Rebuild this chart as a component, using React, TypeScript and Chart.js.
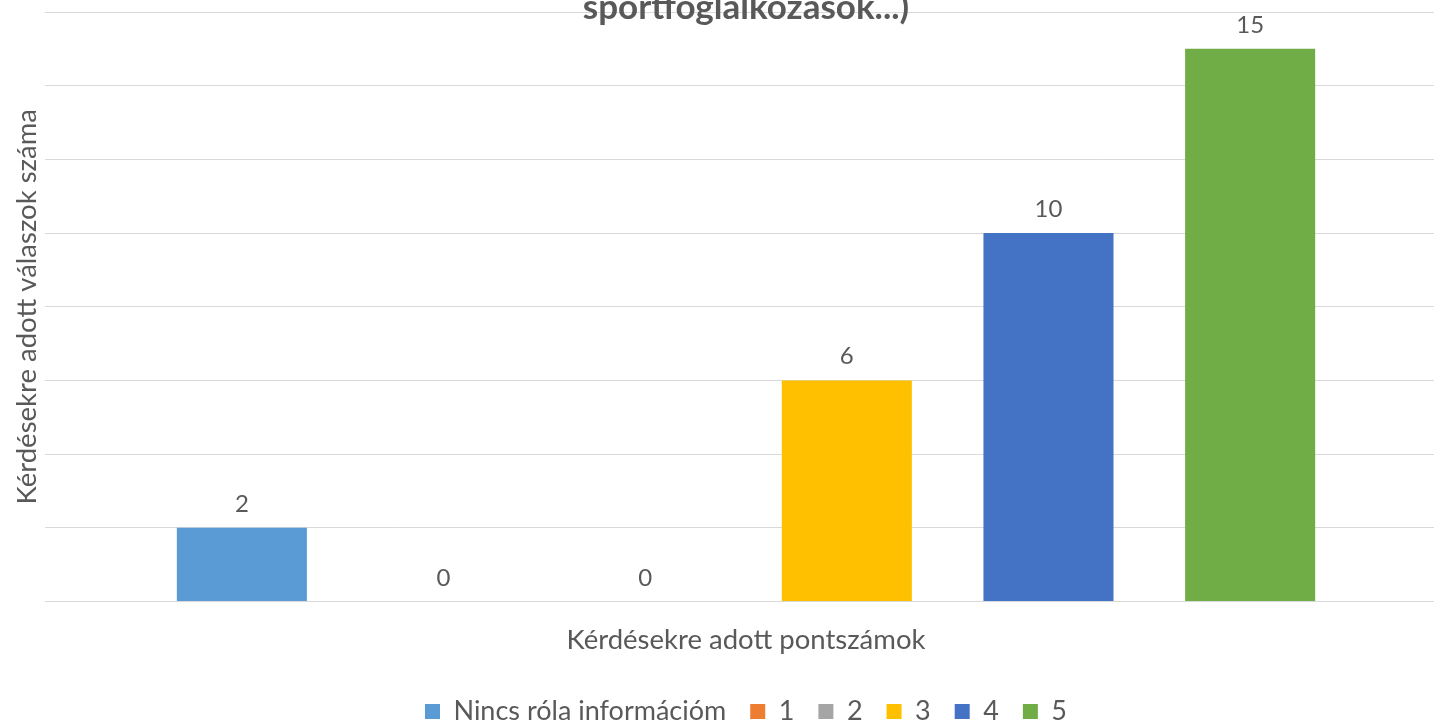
import React, { useEffect, useRef } from "react";
import { Chart, registerables } from "chart.js";

Chart.register(...registerables);

// ---- data ----
const categories = [""];
const seriesLabels = ["Nincs róla információm", "1", "2", "3", "4", "5"];
const seriesValues = [2, 0, 0, 6, 10, 15];
const seriesColors = ["#5B9BD5", "#ED7D31", "#A5A5A5", "#FFC000", "#4472C4", "#70AD47"];
const yMin = 0;
const yMax = 16;
const yStep = 2;
const chartTitle = "sportfoglalkozások...)";
const xAxisTitle = "Kérdésekre adott pontszámok";
const yAxisTitle = "Kérdésekre adott válaszok száma";

const FONT = "Lato, 'Open Sans', sans-serif";
const TEXT = "#595959";

const valueLabels = {
  id: "valueLabels",
  afterDatasetsDraw(chart: any) {
    const ctx = chart.ctx;
    ctx.save();
    ctx.font = `24px ${FONT}`;
    ctx.fillStyle = TEXT;
    ctx.textAlign = "center";
    ctx.textBaseline = "alphabetic";
    chart.data.datasets.forEach((ds: any, i: number) => {
      const meta = chart.getDatasetMeta(i);
      meta.data.forEach((el: any, j: number) => {
        ctx.fillText(String(ds.data[j]), el.x, el.y - 16);
      });
    });
    ctx.restore();
  },
};

export default function App() {
  const ref = useRef<HTMLCanvasElement | null>(null);

  useEffect(() => {
    if (!ref.current) return;
    const chart = new Chart(ref.current, {
      type: "bar",
      data: {
        labels: categories,
        datasets: seriesLabels.map((label, i) => ({
          label,
          data: [seriesValues[i]],
          backgroundColor: seriesColors[i],
          borderWidth: 0,
        })),
      },
      options: {
        animation: false,
        responsive: false,
        layout: { padding: 0 },
        datasets: { bar: { categoryPercentage: 0.863, barPercentage: 0.645 } },
        scales: {
          x: {
            grid: { display: false, drawTicks: false },
            border: { display: false },
            ticks: { display: false },
            title: {
              display: true,
              text: xAxisTitle,
              color: TEXT,
              font: { family: FONT, size: 27.5 },
              padding: { top: 22.5, bottom: 17 },
            },
          },
          y: {
            min: yMin,
            max: yMax,
            ticks: { display: false, stepSize: yStep },
            grid: { color: "#D9D9D9", drawTicks: false, lineWidth: 1 },
            border: { display: false },
            title: {
              display: true,
              text: yAxisTitle,
              color: TEXT,
              font: { family: FONT, size: 27.5 },
              padding: { top: 10.5, bottom: 1.5 },
            },
          },
        },
        plugins: {
          title: {
            display: true,
            text: chartTitle,
            fullSize: false,
            color: TEXT,
            font: { family: FONT, size: 35, weight: "bold" },
            padding: { top: -12.8, bottom: -17.2 },
          },
          legend: {
            position: "bottom",
            fullSize: false,
            labels: {
              boxWidth: 15,
              boxHeight: 15,
              padding: 24,
              color: TEXT,
              font: { family: FONT, size: 27 },
            },
          },
          tooltip: { enabled: false },
        },
      },
      plugins: [valueLabels],
    } as any);
    return () => chart.destroy();
  }, []);

  return (
    <div
      style={{
        position: "fixed",
        left: 0,
        top: 0,
        width: 1434,
        height: 723,
        overflow: "hidden",
        background: "#fff",
      }}
    >
      <canvas ref={ref} width={1447} height={735} style={{ display: "block" }} />
    </div>
  );
}
